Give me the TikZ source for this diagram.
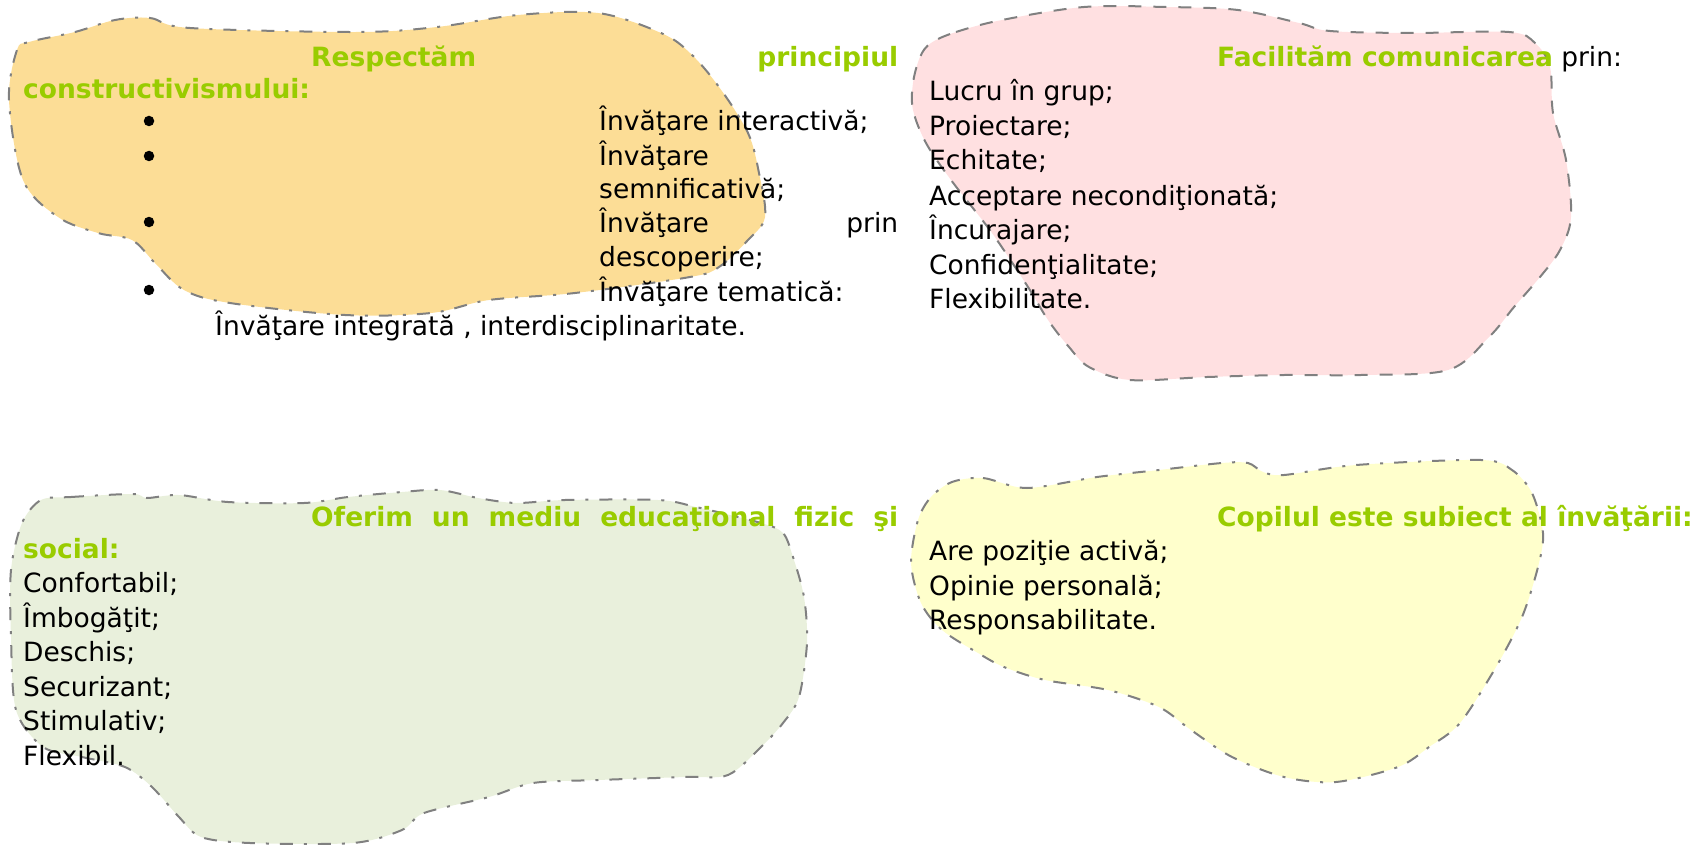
\documentclass[tikz,border=0pt]{standalone}
\usepackage{fontspec}
\setmainfont{DejaVu Sans}
\definecolor{blobline}{RGB}{128,128,128}
\definecolor{orangefill}{RGB}{252,221,150}
\definecolor{pinkfill}{RGB}{255,224,225}
\definecolor{greenfill}{RGB}{233,240,220}
\definecolor{yellowfill}{RGB}{255,255,204}
\definecolor{headgreen}{RGB}{153,204,0}
\tikzset{
  blobdd/.style={draw=blobline, line width=2pt, dash pattern=on 13pt off 11pt on 3pt off 11pt},
  blobdash/.style={draw=blobline, line width=2pt, dash pattern=on 13pt off 12pt},
  txt/.style={anchor=base west, inner sep=0pt, font=\fontsize{26.5}{34}\selectfont, text=black},
  head/.style={txt, font=\fontsize{26.5}{34}\selectfont\bfseries, text=headgreen},
  bul/.style={circle, fill=black, inner sep=0pt, minimum size=10.5pt}
}
\begin{document}
\begin{tikzpicture}[x=1pt,y=-1pt]
\useasboundingbox (0,0) rectangle (1699,845);
% blobs
\path[fill=orangefill, blobdd] plot[smooth cycle, tension=0.55] coordinates {
 (29,42) (75,32) (115,20) (150,18) (190,28) (357,32) (437,27) (518,15) (598,13)
 (661,33) (690,53) (719,87) (748,133) (759,173) (765,217) (748,240) (719,267)
 (690,277) (575,293) (489,300) (431,313) (345,315) (230,303) (184,290) (155,263)
 (132,240) (98,233) (58,217) (23,180) (9,100) (17,50)};
\path[fill=pinkfill, blobdash] plot[smooth cycle, tension=0.55] coordinates {
 (931,43) (956,32) (1002,20) (1084,7) (1166,7) (1238,10) (1299,23) (1330,31)
 (1412,33) (1509,32) (1535,43) (1550,67) (1553,113) (1566,160) (1571,217)
 (1560,250) (1540,277) (1514,307) (1489,337) (1448,370) (1361,375) (1284,375)
 (1207,377) (1130,380) (1089,367) (1069,347) (1048,320) (1028,287) (992,233)
 (951,180) (926,143) (913,110) (913,83) (920,57)};
\path[fill=greenfill, blobdd] plot[smooth cycle, tension=0.5] coordinates {
 (41,500) (71,497) (133,494) (147,498) (179,495) (228,502) (304,503) (348,497)
 (402,492) (440,490) (478,498) (516,503) (565,500) (658,500) (696,507) (761,523)
 (783,533) (793,557) (804,597) (807,643) (799,697) (783,723) (761,747) (728,775)
 (685,777) (598,780) (533,783) (489,797) (424,813) (402,830) (353,843) (250,843)
 (201,837) (179,817) (152,787) (125,767) (82,757) (43,747) (16,710) (11,637)
 (11,570) (22,523)};
\path[fill=yellowfill, blobdd] plot[smooth cycle, tension=0.5] coordinates {
 (952,482) (983,478) (1027,488) (1097,477) (1159,470) (1222,463) (1248,463)
 (1263,472) (1284,475) (1356,465) (1481,460) (1512,470) (1532,493) (1543,533)
 (1538,567) (1522,617) (1496,667) (1460,723) (1429,747) (1398,767) (1336,782)
 (1284,777) (1232,757) (1191,730) (1159,707) (1108,690) (1045,680) (1004,667)
 (978,653) (942,630) (921,603) (911,563) (918,520) (931,497)};

% top-left text
\node[head] (tl1) at (311,67) {\makebox[587pt][s]{Respectăm\hfill principiul}};
\node[head] (tl2) at (23,99) {constructivismului:};
\node[bul] (b1) at (149,121) {};
\node[txt] (i1) at (599,131) {Învăţare interactivă;};
\node[bul] (b2) at (149,156) {};
\node[txt] (i2a) at (599,166) {Învăţare};
\node[txt] (i2b) at (599,199) {semnificativă;};
\node[bul] (b3) at (149,222) {};
\node[txt] (i3a) at (599,233) {\makebox[299pt][s]{Învăţare\hfill prin}};
\node[txt] (i3b) at (599,266) {descoperire;};
\node[bul] (b4) at (149,290) {};
\node[txt] (i4a) at (599,301) {Învăţare tematică:};
\node[txt] (i4b) at (215,335) {Învăţare integrată , interdisciplinaritate.};

% top-right text
\node[head] (tr1) at (1217,67) {Facilităm comunicarea\textcolor{black}{\mdseries\ prin:}};
\node[txt] (tr2) at (929,101) {Lucru în grup;};
\node[txt] (tr3) at (929,136) {Proiectare;};
\node[txt] (tr4) at (929,170) {Echitate;};
\node[txt] (tr5) at (929,205) {Acceptare necondiţionată;};
\node[txt] (tr6) at (929,239) {Încurajare;};
\node[txt] (tr7) at (929,274) {Confidenţialitate;};
\node[txt] (tr8) at (929,308) {Flexibilitate.};

% bottom-left text
\node[head] (bl1) at (311,526) {\makebox[587pt][s]{Oferim\hfill un\hfill mediu\hfill educaţional\hfill fizic\hfill şi}};
\node[head] (bl2) at (23,558) {social:};
\node[txt] (bl3) at (23,592) {Confortabil;};
\node[txt] (bl4) at (23,627) {Îmbogăţit;};
\node[txt] (bl5) at (23,661) {Deschis;};
\node[txt] (bl6) at (23,696) {Securizant;};
\node[txt] (bl7) at (23,730) {Stimulativ;};
\node[txt] (bl8) at (23,765) {Flexibil.};

% bottom-right text
\node[head] (br1) at (1217,526) {Copilul este subiect al învăţării:};
\node[txt] (br2) at (929,560) {Are poziţie activă;};
\node[txt] (br3) at (929,595) {Opinie personală;};
\node[txt] (br4) at (929,629) {Responsabilitate.};
\end{tikzpicture}
\end{document}
